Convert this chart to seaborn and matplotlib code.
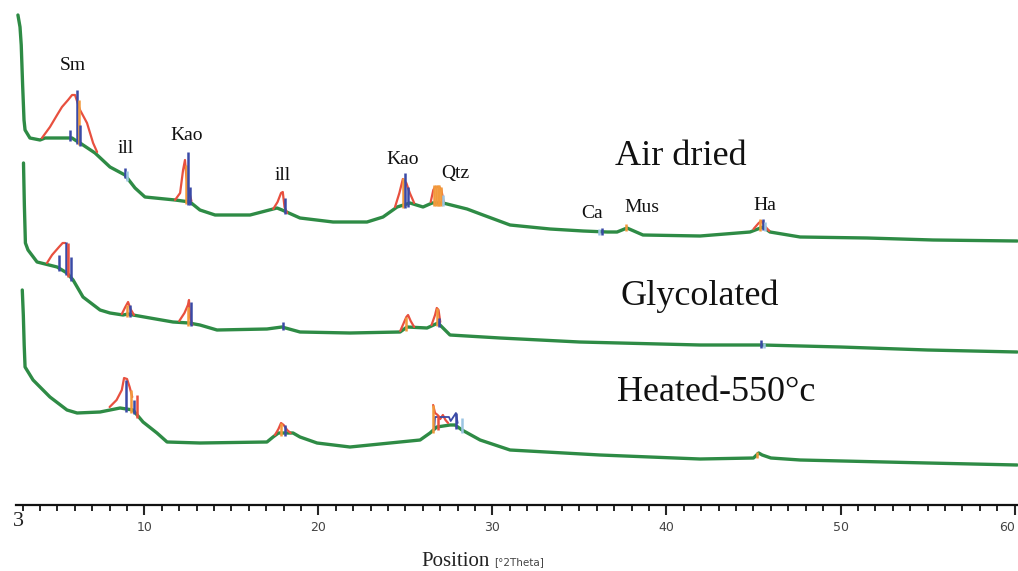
import numpy as np
import pandas as pd
import matplotlib
matplotlib.use("Agg")
import matplotlib.pyplot as plt
import seaborn as sns

# ---------------- data (2theta in degrees, intensity in arbitrary offset units) ----------------
# Air dried pattern (baseline trace)
air_2theta = [2.73, 2.85, 2.92, 3.00, 3.08, 3.14, 3.42, 4.00, 4.29, 5.84, 6.01, 6.30, 7.16, 8.02, 8.88,
              9.46, 10.03, 11.76, 12.62, 13.19, 14.06, 16.07, 17.62, 17.91, 18.94, 20.84, 22.79, 23.71,
              24.52, 25.26, 26.01, 26.53, 27.16, 28.54, 29.46, 31.01, 33.31, 35.21, 36.59, 37.16, 37.73,
              38.65, 41.93, 44.80, 45.55, 45.95, 47.68, 51.53, 55.32, 60.15]
air_counts = [490, 478, 460, 420, 385, 375, 367, 365, 367, 367, 365, 362, 352, 338, 330,
              317, 308, 305, 303, 295, 290, 290, 297, 295, 287, 283, 283, 288,
              298, 302, 298, 302, 302, 296, 290, 280, 276, 274, 273, 273, 277,
              270, 269, 273, 278, 273, 268, 267, 265, 264]
# Air dried peak profiles (red)
air_red = [
    ([4.11, 4.57, 4.98, 5.26, 5.61, 5.84, 6.01, 6.30, 6.70, 7.05, 7.28],
     [367, 378, 390, 398, 405, 410, 410, 395, 382, 362, 353]),
    ([11.76, 12.05, 12.22, 12.33, 12.40, 12.50, 12.70], [305, 312, 335, 345, 330, 318, 304]),
    ([17.40, 17.65, 17.85, 17.95, 18.05, 18.20], [296, 303, 312, 313, 298, 292]),
    ([24.40, 24.65, 24.85, 25.05, 25.25, 25.50], [298, 312, 326, 322, 312, 302]),
    ([26.45, 26.60, 26.70, 26.90, 27.05, 27.20], [303, 315, 318, 318, 316, 303]),
    ([45.00, 45.30, 45.45, 45.60, 45.90], [276, 282, 284, 280, 274]),
]
# Air dried reference sticks: position, top, series
air_stick_pos = [5.73, 6.13, 6.24, 6.30, 8.88, 9.00, 12.38, 12.50, 12.62, 18.05, 24.86, 24.98, 25.15,
                 26.64, 26.75, 26.85, 26.95, 27.04, 27.15, 36.10, 36.30, 37.70, 45.40, 45.55, 45.65]
air_stick_top = [375, 415, 405, 380, 337, 334, 340, 353, 318, 307, 327, 332, 318,
                 320, 320, 320, 320, 318, 310, 276, 277, 281, 286, 286, 283]
air_stick_ser = ["b", "b", "o", "b", "b", "lb", "o", "b", "b", "b", "o", "b", "b",
                 "o", "o", "o", "o", "o", "lb", "lb", "b", "o", "o", "b", "lb"]

# Glycolated pattern
gly_2theta = [3.05, 3.10, 3.16, 3.31, 3.83, 4.98, 5.55, 5.90, 6.47, 7.45, 8.02, 8.77, 9.06, 9.34,
              10.32, 11.64, 12.56, 13.19, 14.17, 17.04, 17.90, 18.94, 21.81, 24.69, 25.09, 26.24,
              26.87, 27.56, 30.44, 35.00, 41.93, 45.50, 50.00, 55.00, 60.15]
gly_counts = [342, 300, 262, 255, 243, 238, 232, 225, 208, 195, 192, 190, 191, 190,
              187, 183, 182, 180, 175, 176, 178, 173, 172, 173, 178, 177,
              182, 170, 167, 163, 160, 160, 158, 155, 153]
gly_red = [
    ([4.40, 4.69, 5.09, 5.30, 5.45], [242, 250, 258, 262, 262]),
    ([8.70, 8.90, 9.06, 9.20, 9.40], [191, 198, 203, 196, 190]),
    ([12.00, 12.30, 12.50, 12.56, 12.62, 12.75], [184, 192, 200, 205, 188, 180]),
    ([24.70, 24.90, 25.05, 25.15, 25.30, 25.50], [174, 182, 188, 190, 184, 178]),
    ([26.50, 26.70, 26.80, 26.90, 27.00], [180, 190, 197, 195, 183]),
]
gly_stick_pos = [5.09, 5.49, 5.61, 5.78, 9.00, 9.15, 12.50, 12.68, 17.96, 25.05, 26.81, 26.95, 45.45, 45.60]
gly_stick_top = [250, 263, 262, 248, 200, 200, 198, 203, 183, 188, 197, 187, 165, 162]
gly_stick_ser = ["b", "b", "r", "b", "o", "b", "o", "b", "b", "o", "o", "b", "b", "lb"]

# Heated-550 pattern
heat_2theta = [2.98, 3.04, 3.09, 3.14, 3.60, 4.57, 5.55, 6.13, 7.45, 8.60, 9.34, 9.92, 10.72, 11.30,
               13.19, 17.04, 17.39, 17.70, 18.00, 18.54, 18.94, 19.92, 21.81, 24.11, 25.84, 26.41,
               26.80, 27.56, 27.85, 28.25, 29.29, 31.01, 36.18, 41.93, 45.00, 45.30, 45.50, 46.00,
               47.68, 55.00, 60.15]
heat_counts = [215, 190, 160, 138, 125, 108, 95, 92, 93, 97, 95, 83, 72, 63,
               62, 63, 68, 72, 72, 72, 68, 62, 58, 62, 65, 72,
               78, 80, 80, 75, 65, 55, 50, 46, 47, 52, 50, 47,
               45, 42, 40]
heat_red = [
    ([8.00, 8.40, 8.70, 8.83, 9.00, 9.15, 9.30], [98, 105, 115, 127, 126, 118, 108]),
    ([17.50, 17.70, 17.85, 18.00, 18.20, 18.40], [70, 76, 82, 80, 75, 72]),
    ([26.59, 26.70, 26.85, 27.00, 27.15, 27.30, 27.45], [100, 92, 90, 86, 90, 85, 82]),
]
heat_blue = [
    ([26.65, 26.70, 27.50, 27.60, 27.90, 28.00], [75, 88, 88, 84, 92, 82]),
]
heat_stick_pos = [8.94, 9.23, 9.40, 9.57, 17.85, 18.08, 26.59, 26.87, 27.90, 28.25, 45.20]
heat_stick_top = [125, 115, 105, 110, 82, 80, 100, 90, 92, 87, 53]
heat_stick_ser = ["b", "o", "b", "r", "o", "b", "o", "r", "b", "lb", "o"]

# Annotations
peak_labels = ["Sm", "ill", "Kao", "ill", "Kao", "Qtz", "Ca", "Mus", "Ha"]
peak_label_x = [5.90, 8.94, 12.45, 17.96, 24.86, 27.85, 35.72, 38.60, 45.67]
peak_label_y = [435, 352, 365, 325, 341, 327, 287, 293, 295]
sample_labels = ["Air dried", "Glycolated", "Heated-550°c"]
sample_label_x = [37.04, 37.33, 37.16]
sample_label_y = [340, 200, 104]

tick_major = [10, 20, 30, 40, 50, 60]
tick_minor = [v for v in range(3, 60) if v % 10 != 0]

# ---------------- styling ----------------
sns.set_theme(style="white")
plt.rcParams["font.family"] = ["DejaVu Sans"]
GREEN = "#2e8b45"
PAL = {"r": "#e8503f", "b": "#3a4aa6", "o": "#f29a3c", "lb": "#9cc5e3"}
SERIF = "Liberation Serif"

fig = plt.figure(figsize=(10.18, 5.71), dpi=100)
ax = fig.add_axes([0, 66 / 571, 1, 505 / 571])

samples = [
    (air_2theta, air_counts, air_red, [], air_stick_pos, air_stick_top, air_stick_ser),
    (gly_2theta, gly_counts, gly_red, [], gly_stick_pos, gly_stick_top, gly_stick_ser),
    (heat_2theta, heat_counts, heat_red, heat_blue, heat_stick_pos, heat_stick_top, heat_stick_ser),
]

for xs, ys, reds, blues, spos, stop, sser in samples:
    df = pd.DataFrame({"x": xs, "y": ys})
    sns.lineplot(data=df, x="x", y="y", ax=ax, color=GREEN, lw=2.4, sort=False,
                 estimator=None, legend=False, zorder=3)
    for rx, ry in reds:
        sns.lineplot(x=rx, y=ry, ax=ax, color=PAL["r"], lw=1.6, sort=False,
                     estimator=None, legend=False, zorder=4)
    for bx, by in blues:
        sns.lineplot(x=bx, y=by, ax=ax, color=PAL["b"], lw=1.3, sort=False,
                     estimator=None, legend=False, zorder=4)
    base = np.interp(spos, xs, ys)
    for p, t, b, s in zip(spos, stop, base, sser):
        ax.vlines(p, min(b, t) - 3, t, color=PAL[s], lw=1.8, zorder=5)

for t, x, y in zip(peak_labels, peak_label_x, peak_label_y):
    ax.text(x, y, t, ha="center", va="baseline", fontsize=14, family=SERIF, color="#111")
for t, x, y in zip(sample_labels, sample_label_x, sample_label_y):
    ax.text(x, y, t, ha="left", va="baseline", fontsize=26, family=SERIF, color="#111")

ax.set_xlim(1.7, 60.2)
ax.set_ylim(0, 505)
ax.set_xticks(tick_major)
ax.set_xticklabels([str(v) for v in tick_major])
ax.set_xticks(tick_minor, minor=True)
ax.tick_params(axis="x", which="major", direction="out", length=7.5, width=1.5,
               labelsize=9, labelcolor="#444", pad=4, bottom=True)
ax.tick_params(axis="x", which="minor", direction="out", length=4, width=1.4, bottom=True)
ax.get_xticklabels()[-1].set_horizontalalignment("right")
ax.set_yticks([])
for sp in ["top", "right", "left"]:
    ax.spines[sp].set_visible(False)
ax.spines["bottom"].set_linewidth(1.6)
ax.spines["bottom"].set_color("#111")
ax.spines["bottom"].set_bounds(2.6, 60.2)
ax.set_xlabel("")
ax.set_ylabel("")

ax.text(2.75, -17, "3", ha="center", va="center", fontsize=16, family=SERIF, color="#222",
        clip_on=False)
ax.text(29.85, -57, "Position", ha="right", va="center", fontsize=15, family=SERIF,
        color="#222", clip_on=False)
ax.text(30.1, -57, "[°2Theta]", ha="left", va="center", fontsize=7.5, color="#444",
        clip_on=False)

fig.savefig("out.png", dpi=100)
